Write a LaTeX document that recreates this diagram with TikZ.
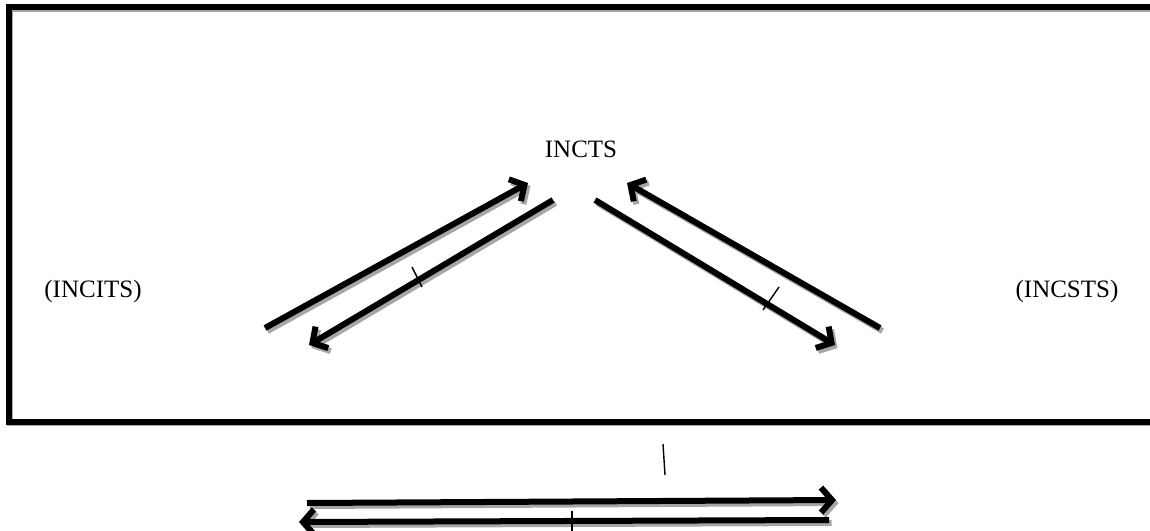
\documentclass[tikz,border=0pt]{standalone}
\usepackage{fontspec}
\setmainfont{Liberation Serif}
\usetikzlibrary{arrows.meta}
\newcommand\drawallarrows[1]{%
  \draw[#1] (l1s) -- (l1e);
  \draw[#1] (l2s) -- (l2e);
  \draw[#1] (r1s) -- (r1e);
  \draw[#1] (r2s) -- (r2e);
  \draw[#1] (b1s) -- (b1e);
  \draw[#1] (b2s) -- (b2e);
}
\begin{document}
\begin{tikzpicture}[x=1pt,y=-1pt,
  lbl/.style={font=\fontsize{25}{30}\selectfont, inner sep=0pt, anchor=base},
  arr/.style={line width=6pt, -{Straight Barb[length=11pt,width=25pt]}},
  shadowcol/.style={draw=black!35},
  framebox/.style={line width=6pt},
  tickmark/.style={line width=1.4pt}]
\useasboundingbox (0,0) rectangle (1150,530);
% coordinates
\coordinate (l1s) at (265,328); \coordinate (l1e) at (528,183);
\coordinate (l2s) at (553,200); \coordinate (l2e) at (309,345);
\coordinate (r1s) at (880,328); \coordinate (r1e) at (627,183);
\coordinate (r2s) at (595,200); \coordinate (r2e) at (835,345);
\coordinate (b1s) at (307,503); \coordinate (b1e) at (836,500);
\coordinate (b2s) at (829,520); \coordinate (b2e) at (299,522);
% frame shadow and frame
\begin{scope}[transform canvas={shift={(1.8pt,-1.8pt)}}]
\draw[framebox, shadowcol] (8.5,7) rectangle (1170,421.5);
\end{scope}
\draw[framebox] (8.5,7) rectangle (1170,421.5);
% labels
\node[lbl] (incts) at (581,157) {INCTS};
\node[lbl] (incits) at (93,297) {(INCITS)};
\node[lbl] (incsts) at (1067,297) {(INCSTS)};
% arrow shadows
\begin{scope}[transform canvas={shift={(2.5pt,-3pt)}}]
\drawallarrows{arr, shadowcol}
\end{scope}
% arrows
\drawallarrows{arr}
% tick marks
\draw[tickmark] (412,267) -- (422,287);
\draw[tickmark] (779,287) -- (763,310);
\draw[tickmark] (572,511) -- (572,535);
\draw[tickmark] (663,444) -- (665,475);
\end{tikzpicture}
\end{document}
